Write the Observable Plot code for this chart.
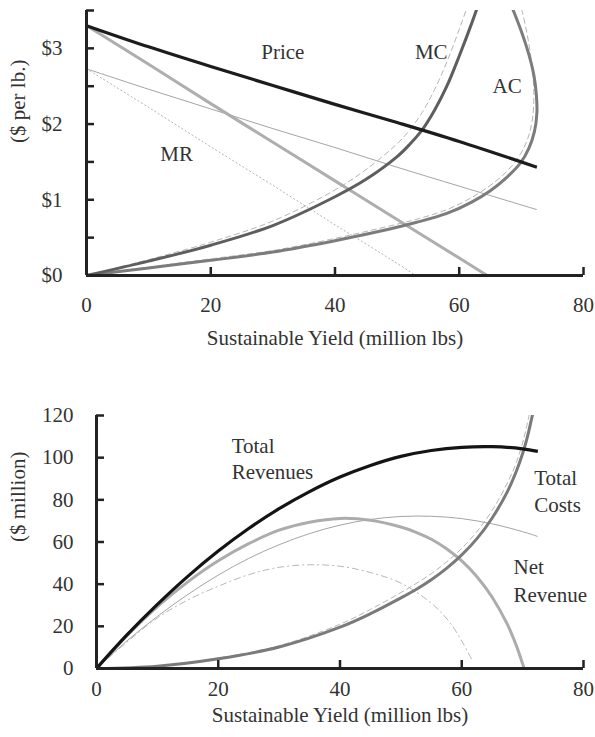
<!DOCTYPE html>
<html><head><meta charset="utf-8">
<script src="https://cdn.jsdelivr.net/npm/d3@7"></script>
<script src="https://cdn.jsdelivr.net/npm/@observablehq/plot@0.6"></script>
<style>
body{margin:0;background:#fff;}
#chart{width:595px;height:737px;}
#chart svg{display:block;}
</style></head><body><div id="chart"></div>
<script>
// ---------- Top panel: $ per lb ----------
const priceYield = [0, 10, 20, 30, 40, 50, 60, 72.5];
const price      = [3.30, 3.02, 2.76, 2.51, 2.26, 2.02, 1.77, 1.43];
const altPrice   = [2.73, 2.46, 2.20, 1.94, 1.69, 1.43, 1.18, 0.87];

const mrYield = [0, 10, 20, 30, 40, 50, 60, 64.5];
const mr      = [3.30, 2.79, 2.27, 1.76, 1.25, 0.74, 0.23, 0];
const altMrYield = [0, 10, 20, 30, 40, 50, 53];
const altMr      = [2.73, 2.22, 1.70, 1.19, 0.67, 0.16, 0];

const mcYield = [0, 10, 20, 30, 40, 45, 50, 52, 54, 56, 58, 60, 62, 64];
const mc      = [0, 0.19, 0.40, 0.66, 1.04, 1.27, 1.57, 1.73, 1.92, 2.18, 2.50, 2.90, 3.33, 3.80];
const altMcYield = [0, 10, 20, 30, 40, 45, 50, 52, 54, 56, 58, 60, 62];
const altMc      = [0, 0.21, 0.44, 0.72, 1.13, 1.40, 1.74, 1.92, 2.15, 2.45, 2.82, 3.25, 3.72];

const acYield = [0, 10, 20, 30, 40, 47, 53, 58, 62, 65, 67.7, 69.8, 71.2, 72.1, 72.5, 72.4, 72.0, 71.2, 70.1, 68.8, 68.2];
const ac      = [0, 0.10, 0.20, 0.31, 0.46, 0.58, 0.70, 0.82, 0.97, 1.12, 1.30, 1.48, 1.68, 1.90, 2.15, 2.40, 2.65, 2.92, 3.20, 3.48, 3.60];
const altAcYield = [0, 10, 20, 30, 40, 47, 53, 58, 62, 65, 67.6, 69.6, 70.9, 71.7, 72.0, 71.9, 71.5, 70.9, 70.1, 69.8];
const altAc      = [0, 0.11, 0.22, 0.33, 0.49, 0.62, 0.74, 0.87, 1.03, 1.19, 1.37, 1.57, 1.78, 2.02, 2.30, 2.60, 2.90, 3.20, 3.50, 3.60];

const xTicks = [20, 40, 60, 80];
const xTickLabels = [0, 20, 40, 60, 80];
const priceTicks = [0.5, 1, 1.5, 2, 2.5, 3, 3.5];
const priceTickLabels = [0, 1, 2, 3];
const topLabels = [
  {label: "Price", x: 31.6, y: 2.95},
  {label: "MC", x: 55.5, y: 2.95},
  {label: "AC", x: 67.7, y: 2.50},
  {label: "MR", x: 14.5, y: 1.60}
];

// ---------- Bottom panel: $ million ----------
const revYield = [0, 5, 10, 15, 20, 25, 30, 35, 40, 45, 50, 55, 60, 65, 70, 72.5];
const totalRev = [0, 15.9, 30.4, 43.7, 55.7, 66.4, 75.8, 83.9, 90.8, 96.3, 100.6, 103.4, 104.9, 105.2, 104.2, 103.0];
const altTotalRev = [0, 13.1, 24.7, 35.1, 44.3, 52.2, 58.7, 64.0, 68.0, 70.7, 72.1, 72.2, 71.1, 68.6, 64.9, 62.6];

const tcYield = [0, 10, 20, 30, 40, 45, 50, 52.5, 55, 57.5, 60, 62.5, 65, 67.5, 69, 70, 70.8, 71.5, 72];
const totalCost = [0, 1.1, 4.6, 10.2, 19.6, 26, 33.5, 37.5, 42.1, 47.5, 53.9, 61.6, 71.4, 83.9, 93.8, 102, 110, 118.8, 125];
const altTcYield = [0, 10, 20, 30, 40, 45, 50, 52.5, 55, 57.5, 60, 62.5, 65, 67.5, 69, 70, 70.6, 71.2];
const altTotalCost = [0, 1.2, 5, 10.8, 21, 28, 36, 40.3, 45, 50.5, 57, 65, 75, 88, 98, 107, 114, 122];

const nrYield = [0, 5, 10, 15, 20, 25, 30, 35, 40, 45, 50, 52.5, 55, 57.5, 60, 62.5, 65, 67.5, 69, 70, 70.25];
const netRev  = [0, 15.6, 29.3, 41.1, 51.1, 59.2, 65.6, 69.4, 71.2, 70.3, 67.1, 64.6, 61.3, 56.8, 51, 43.5, 33.8, 20.9, 10.6, 2.2, 0];
const altNrYield = [0, 5, 10, 15, 20, 25, 30, 35, 40, 45, 50, 55, 58, 60, 61.7];
const altNetRev  = [0, 12.5, 24, 32.5, 39, 44.5, 48, 49.2, 48.5, 45.5, 40.5, 31, 22, 13, 4];

const millionTicks = [20, 40, 60, 80, 100, 120];
const millionTickLabels = [0, 20, 40, 60, 80, 100, 120];
const bottomLabels = [
  {label: "Total", x: 22.2, y: 105.3},
  {label: "Revenues", x: 22.2, y: 93.0},
  {label: "Total", x: 71.9, y: 90.1},
  {label: "Costs", x: 71.9, y: 77.3},
  {label: "Net", x: 68.5, y: 47.9},
  {label: "Revenue", x: 68.5, y: 34.6}
];

const xTitle = "Sustainable Yield (million lbs)";
const topYTitle = "($ per lb.)";
const bottomYTitle = "($ million)";

// ---------- helpers ----------
const pts = (xs, ys) => xs.map((x, i) => ({x, y: ys[i]}));
const FONT = "'Liberation Serif', 'Times New Roman', serif";
const TXT = "#333";
const AX = "#222";
const line = (xs, ys, o) => Plot.line(pts(xs, ys), {x: "x", y: "y", curve: "catmull-rom", clip: true, strokeLinecap: "butt", ...o});

function axes(xT, xTL, yT, yTL, yFmt, xPad, yPad) {
  return [
    Plot.ruleX([0], {stroke: AX, strokeWidth: 3}),
    Plot.ruleY([0], {stroke: AX, strokeWidth: 3}),
    Plot.axisX({ticks: xT, tickSize: 8, dy: -8, tickFormat: () => "", stroke: AX, strokeWidth: 2.5, label: null}),
    Plot.axisX({ticks: xTL, tickSize: 0, tickPadding: xPad, tickFormat: d => String(d), fill: TXT, label: null}),
    Plot.axisY({ticks: yT, tickSize: 8, dx: 8, tickFormat: () => "", stroke: AX, strokeWidth: 2.5, label: null}),
    Plot.axisY({ticks: yTL, tickSize: 0, tickPadding: yPad, tickFormat: yFmt, fill: TXT, label: null})
  ];
}

const topPlot = Plot.plot({
  width: 595, height: 370,
  marginLeft: 86, marginRight: 12, marginTop: 10, marginBottom: 95,
  style: {fontFamily: FONT, fontSize: "21px", color: TXT, background: "white", overflow: "visible"},
  x: {domain: [0, 80], label: null},
  y: {domain: [0, 3.5], label: null},
  marks: [
    line(priceYield, altPrice, {stroke: "#9a9a9a", strokeWidth: 0.9}),
    line(altMrYield, altMr, {stroke: "#b5b5b5", strokeWidth: 1, strokeDasharray: "2,2"}),
    line(altMcYield, altMc, {stroke: "#b5b5b5", strokeWidth: 1, strokeDasharray: "6,3"}),
    line(altAcYield, altAc, {stroke: "#b5b5b5", strokeWidth: 1, strokeDasharray: "6,3"}),
    line(mrYield, mr, {stroke: "#aeaeae", strokeWidth: 3}),
    line(acYield, ac, {stroke: "#7c7c7c", strokeWidth: 3}),
    line(mcYield, mc, {stroke: "#5e5e5e", strokeWidth: 3}),
    line(priceYield, price, {stroke: "#1c1c1c", strokeWidth: 3.2}),
    ...axes(xTicks, xTickLabels, priceTicks, priceTickLabels, d => "$" + d, 22, 24),
    Plot.text([xTitle], {text: d => d, frameAnchor: "bottom", dy: 69, fill: TXT}),
    Plot.text([topYTitle], {text: d => d, frameAnchor: "left", dx: -68, rotate: -90, fill: TXT}),
    Plot.text(topLabels, {x: "x", y: "y", text: "label", fill: TXT})
  ]
});

const bottomPlot = Plot.plot({
  width: 595, height: 367,
  marginLeft: 96, marginRight: 12, marginTop: 45, marginBottom: 69,
  style: {fontFamily: FONT, fontSize: "21px", color: TXT, background: "white", overflow: "visible"},
  x: {domain: [0, 80], label: null},
  y: {domain: [0, 120], label: null},
  marks: [
    line(revYield, altTotalRev, {stroke: "#9a9a9a", strokeWidth: 0.9}),
    line(altNrYield, altNetRev, {stroke: "#b8b8b8", strokeWidth: 1, strokeDasharray: "7,3,2,3"}),
    line(altTcYield, altTotalCost, {stroke: "#b5b5b5", strokeWidth: 1, strokeDasharray: "6,3"}),
    line(nrYield, netRev, {stroke: "#acacac", strokeWidth: 3}),
    line(tcYield, totalCost, {stroke: "#7a7a7a", strokeWidth: 3}),
    line(revYield, totalRev, {stroke: "#141414", strokeWidth: 3.2}),
    ...axes(xTicks, xTickLabels, millionTicks, millionTickLabels, d => String(d), 13, 23),
    Plot.text([xTitle], {text: d => d, frameAnchor: "bottom", dy: 53, fill: TXT}),
    Plot.text([bottomYTitle], {text: d => d, frameAnchor: "left", dx: -78, rotate: -90, fill: TXT}),
    Plot.text(bottomLabels, {x: "x", y: "y", text: "label", textAnchor: "start", fill: TXT})
  ]
});

const el = document.getElementById("chart");
el.appendChild(topPlot);
el.appendChild(bottomPlot);
</script>
</body></html>
